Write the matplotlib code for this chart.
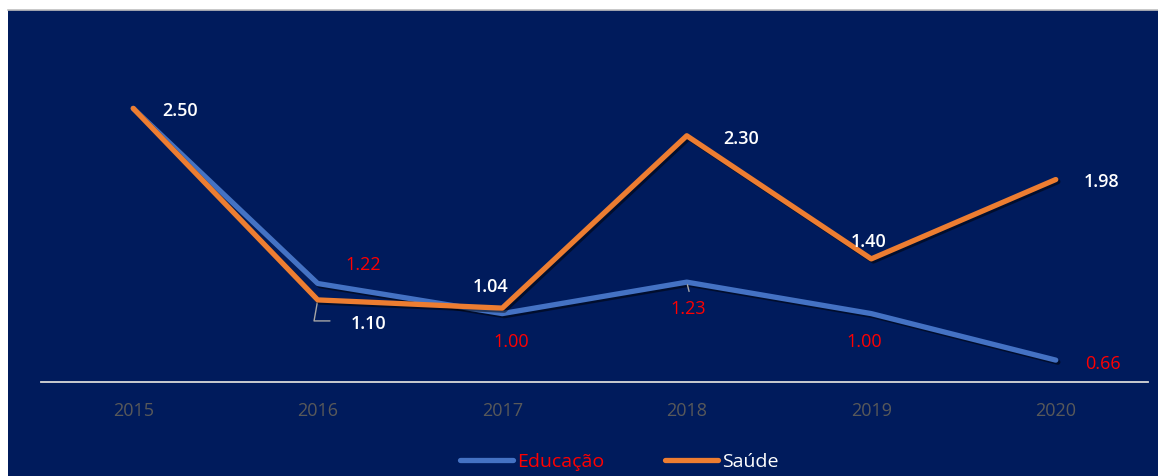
import matplotlib.pyplot as plt
import matplotlib.patheffects as pe
from matplotlib.patches import Rectangle

plt.rcParams['font.family'] = ['Open Sans', 'DejaVu Sans']

anos = ['2015', '2016', '2017', '2018', '2019', '2020']
educacao = [2.50, 1.22, 1.00, 1.23, 1.00, 0.66]
saude = [2.50, 1.10, 1.04, 2.30, 1.40, 1.98]

# deslocamento dos rótulos (pixels) - só estilo
off_edu = [None, (45, 20), (9, -27), (1, -26), (-7, -27), (47, -3)]
off_sau = [(47, -2), (51, -23), (-12, 22), (54, -2), (-3, 18), (46, -1)]

AZUL = '#4472C4'
LARANJA = '#ED7D31'
FUNDO = '#001B5C'

W, H = 1158, 477
fig = plt.figure(figsize=(W / 100, H / 100), dpi=100)
fig.patch.set_facecolor('white')

# fundo azul escuro + borda superior cinza
fig.patches.append(Rectangle((8 / W, 0), 1 - 8 / W, (H - 11) / H,
                             transform=fig.transFigure, facecolor=FUNDO,
                             edgecolor='none', zorder=-10))
fig.lines.append(plt.Line2D([8 / W, 1], [(H - 10.5) / H] * 2,
                            transform=fig.transFigure, color='#BFBFBF', lw=1.2, zorder=-9))

ax = fig.add_axes([41 / W, (H - 383) / H, (1148 - 41) / W, (383 - 41) / H])
ax.set_facecolor('none')
ax.set_zorder(1)

x = list(range(len(anos)))
sombra = [pe.SimpleLineShadow(offset=(1.5, -1.5), shadow_color='black', alpha=0.5), pe.Normal()]
ax.plot(x, educacao, color=AZUL, lw=3.8, solid_capstyle='round',
        path_effects=sombra, label='Educação', zorder=3)
ax.plot(x, saude, color=LARANJA, lw=3.8, solid_capstyle='round',
        path_effects=sombra, label='Saúde', zorder=4)

ax.set_xlim(-0.5, len(anos) - 0.5)
ax.set_ylim(0.5, 3.0)
ax.set_xticks(x)
ax.set_xticklabels(anos, color='#595959', fontsize=13)
ax.tick_params(axis='x', length=0, pad=14)
ax.set_yticks([])
for s in ['top', 'right', 'left']:
    ax.spines[s].set_visible(False)
ax.spines['bottom'].set_color('#D9D9D9')
ax.spines['bottom'].set_linewidth(1.3)

for i, v in enumerate(saude):
    ax.annotate(f'{v:.2f}', (x[i], v), xytext=off_sau[i], textcoords='offset pixels',
                ha='center', va='center', color='white', fontsize=13,
                fontweight='semibold', zorder=6)
for i, v in enumerate(educacao):
    if off_edu[i] is None:
        continue
    ax.annotate(f'{v:.2f}', (x[i], v), xytext=off_edu[i], textcoords='offset pixels',
                ha='center', va='center', color='#FF0000', fontsize=13,
                fontweight='medium', zorder=6)

# linhas de chamada
ax.annotate('', (x[1], saude[1]), xytext=(15, -21), textcoords='offset pixels',
            arrowprops=dict(arrowstyle='-', color='#A6A6A6', lw=1,
                            connectionstyle='angle,angleA=0,angleB=80,rad=0'))
ax.annotate('', (x[3], educacao[3]), xytext=(3, -12), textcoords='offset pixels',
            arrowprops=dict(arrowstyle='-', color='#A6A6A6', lw=1))

leg = fig.legend(loc='lower center', bbox_to_anchor=(0.535, -0.025), ncol=2, frameon=False,
                 fontsize=14, handlelength=2.7, handletextpad=0.25, columnspacing=3.1)
for t, c in zip(leg.get_texts(), ['#FF0000', 'white']):
    t.set_color(c)
for h in leg.get_lines():
    h.set_linewidth(3.8)
    h.set_path_effects([])

fig.savefig('out.png', dpi=100, facecolor=fig.get_facecolor())
